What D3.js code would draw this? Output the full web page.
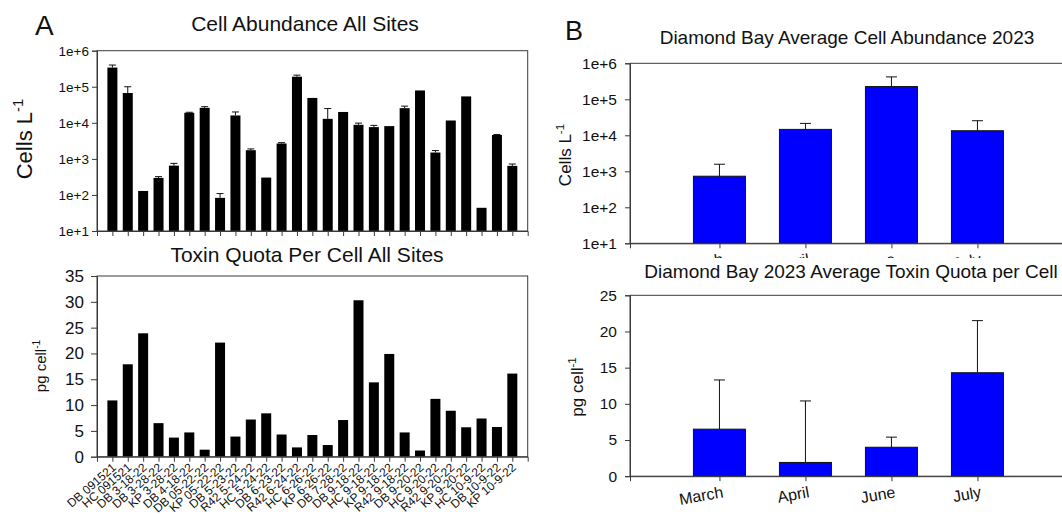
<!DOCTYPE html>
<html>
<head>
<meta charset="utf-8">
<script src="https://cdn.jsdelivr.net/npm/d3@7"></script>
<style>
  body { margin: 0; background: #fff; }
  svg { display: block; }
  text { font-family: "Liberation Sans", Arial, sans-serif; fill: #111; }
</style>
</head>
<body>
<svg id="fig" width="1062" height="514"></svg>
<script>
// ---- Panel A: all sampling sites ----
const siteLabels = [
  "DB 091521", "HC 091521", "DB 3-18-22", "DB 3-28-22", "KP 3-28-22", "DB 4-18-22",
  "DB 05-22-22", "KP 05-22-22", "DB 5-23-22", "R42 5-24-22", "HC 5-24-22", "DB 6-23-22",
  "R42 6-24-22", "HC 6-26-22", "KP 6-26-22", "DB 7-28-22", "DB 9-18-22", "HC 9-18-22",
  "KP 9-18-22", "R42 9-18-22", "DB 9-20-22", "HC 9-20-22", "R42 9-20-22", "KP 9-20-22",
  "HC 10-9-22", "DB 10-9-22", "KP 10-9-22"
];
// cells per litre (mean) and upper error
const siteCells = [
  340000, 67000, 129, 297, 650, 19000, 26000, 83, 16000, 1740, 303, 2670,
  190000, 49000, 12900, 20000, 8800, 7600, 8100, 25500, 79000, 1500, 11600, 54000,
  44, 4600, 640
];
const siteCellsErr = [
  60000, 33000, 0, 25, 100, 600, 2000, 26, 4000, 150, 0, 150,
  20000, 0, 12000, 0, 1000, 900, 0, 3500, 0, 200, 0, 0,
  0, 150, 80
];
// toxin quota, pg per cell
const siteToxin = [
  10.9, 17.9, 23.9, 6.5, 3.7, 4.7, 1.36, 22.1, 3.9, 7.2, 8.4, 4.3,
  1.8, 4.2, 2.26, 7.1, 30.3, 14.4, 19.9, 4.7, 1.2, 11.2, 8.9, 5.7,
  7.4, 5.75, 16.1
];

// ---- Panel B: Diamond Bay monthly means, 2023 ----
const months = ["March", "April", "June", "July"];
const monthCells = [730, 14600, 226000, 13400];
const monthCellsErr = [840, 6800, 193000, 12000];
const monthToxin = [6.5, 1.9, 4.0, 14.3];
const monthToxinErr = [6.8, 8.5, 1.4, 7.2];

// shared tick values / labels
const cellTicks = [10, 100, 1000, 10000, 100000, 1000000];
const cellTickLabels = ["1e+1", "1e+2", "1e+3", "1e+4", "1e+5", "1e+6"];
const siteToxinTicks = [0, 5, 10, 15, 20, 25, 30, 35];
const monthToxinTicks = [0, 5, 10, 15, 20, 25];

const svg = d3.select("#fig");
const AXIS = "#3a3a3a";

function styleAxis(g, fontSize) {
  g.attr("font-size", fontSize);
  g.selectAll("path.domain").attr("stroke", AXIS);
  g.selectAll(".tick line").attr("stroke", AXIS);
  g.selectAll(".tick text")
    .attr("font-family", "Liberation Sans, Arial, sans-serif")
    .attr("font-size", fontSize)
    .attr("fill", "#111");
}

function yLabel(x, y, main, size) {
  const t = svg.append("text")
    .attr("transform", `translate(${x},${y}) rotate(-90)`)
    .attr("text-anchor", "middle")
    .attr("font-size", size);
  t.append("tspan").text(main);
  t.append("tspan").attr("font-size", size * 0.68).attr("dy", -size * 0.42).text("-1");
}

function errorBars(g, xs, ys, means, errs, capHalf) {
  const idx = d3.range(means.length).filter(i => errs[i] > 0);
  g.selectAll("line.err").data(idx).join("line")
    .attr("x1", i => xs(i)).attr("x2", i => xs(i))
    .attr("y1", i => ys(means[i])).attr("y2", i => ys(means[i] + errs[i]))
    .attr("stroke", "#111").attr("stroke-width", 1);
  g.selectAll("line.cap").data(idx).join("line")
    .attr("x1", i => xs(i) - capHalf).attr("x2", i => xs(i) + capHalf)
    .attr("y1", i => ys(means[i] + errs[i])).attr("y2", i => ys(means[i] + errs[i]))
    .attr("stroke", "#111").attr("stroke-width", 1);
}

// ================= Panel A, top: cell abundance =================
{
  const L = 97, R = 527.7, T = 50.7, B = 231;
  const x = d3.scalePoint().domain(siteLabels).range([L, R]).padding(1);
  const y = d3.scaleLog().domain([10, 1e6]).range([B, T]);
  const g = svg.append("g");

  g.selectAll("rect.bar").data(siteCells).join("rect")
    .attr("x", (d, i) => x(siteLabels[i]) - 5)
    .attr("y", d => y(d))
    .attr("width", 10)
    .attr("height", d => B - y(d))
    .attr("fill", "#000");
  errorBars(g, i => x(siteLabels[i]), y, siteCells, siteCellsErr, 3.5);

  g.append("rect").attr("x", L).attr("y", T).attr("width", R - L).attr("height", B - T)
    .attr("fill", "none").attr("stroke", AXIS);

  const ya = g.append("g").attr("transform", `translate(${L},0)`)
    .call(d3.axisLeft(y).tickValues(cellTicks).tickFormat((d, i) => cellTickLabels[i]).tickSize(5).tickPadding(3));
  styleAxis(ya, 13.5);
  const xa = g.append("g").attr("transform", `translate(0,${B})`)
    .call(d3.axisBottom(x).tickSize(5).tickFormat(""));
  styleAxis(xa, 12);

  svg.append("text").attr("x", 305).attr("y", 31).attr("text-anchor", "middle")
    .attr("font-size", 21).text("Cell Abundance All Sites");
  yLabel(32, 139, "Cells L", 22);
  svg.append("text").attr("x", 35).attr("y", 35).attr("font-size", 28).text("A");
}

// ================= Panel A, bottom: toxin quota =================
{
  const L = 97, R = 527.7, T = 276, B = 456.7;
  const x = d3.scalePoint().domain(siteLabels).range([L, R]).padding(1);
  const y = d3.scaleLinear().domain([0, 35]).range([B, T]);
  const g = svg.append("g");

  g.selectAll("rect.bar").data(siteToxin).join("rect")
    .attr("x", (d, i) => x(siteLabels[i]) - 5)
    .attr("y", d => y(d))
    .attr("width", 10)
    .attr("height", d => B - y(d))
    .attr("fill", "#000");

  g.append("rect").attr("x", L).attr("y", T).attr("width", R - L).attr("height", B - T)
    .attr("fill", "none").attr("stroke", AXIS);

  const ya = g.append("g").attr("transform", `translate(${L},0)`)
    .call(d3.axisLeft(y).tickValues(siteToxinTicks).tickSize(6).tickPadding(7));
  styleAxis(ya, 17);
  const xa = g.append("g").attr("transform", `translate(0,${B})`)
    .call(d3.axisBottom(x).tickSize(5));
  styleAxis(xa, 12);
  xa.selectAll(".tick text")
    .attr("text-anchor", "end")
    .attr("dy", null)
    .attr("y", null)
    .attr("transform", "translate(4,12) rotate(-41)");

  svg.append("text").attr("x", 307).attr("y", 262).attr("text-anchor", "middle")
    .attr("font-size", 21).text("Toxin Quota Per Cell All Sites");
  yLabel(46, 366, "pg cell", 15);
}

// ================= Panel B, top: monthly cell abundance =================
{
  const L = 630, R = 630 + 86 * 5.08, T = 63.3, B = 243.3;
  const x = d3.scalePoint().domain(months).range([L, R]).padding(1.04);
  const y = d3.scaleLog().domain([10, 1e6]).range([B, T]);
  const g = svg.append("g");

  errorBars(g, i => x(months[i]), y, monthCells, monthCellsErr, 5.5);
  g.selectAll("rect.bar").data(monthCells).join("rect")
    .attr("x", (d, i) => x(months[i]) - 26)
    .attr("y", d => y(d))
    .attr("width", 52)
    .attr("height", d => B - y(d))
    .attr("fill", "#0000ff")
    .attr("stroke", "#111").attr("stroke-width", 1);

  g.append("rect").attr("x", L).attr("y", T).attr("width", R - L).attr("height", B - T)
    .attr("fill", "none").attr("stroke", AXIS);

  const ya = g.append("g").attr("transform", `translate(${L},0)`)
    .call(d3.axisLeft(y).tickValues(cellTicks).tickFormat((d, i) => cellTickLabels[i]).tickSize(5).tickPadding(8));
  styleAxis(ya, 15.5);
  const xa = g.append("g").attr("transform", `translate(0,${B})`)
    .call(d3.axisBottom(x).tickSize(5));
  styleAxis(xa, 16);
  xa.selectAll(".tick text")
    .attr("text-anchor", "end").attr("dy", null).attr("y", null)
    .attr("transform", "translate(4,21) rotate(-10)");

  svg.append("text").attr("x", 847).attr("y", 44).attr("text-anchor", "middle")
    .attr("font-size", 19).text("Diamond Bay Average Cell Abundance 2023");
  yLabel(571, 155, "Cells L", 17);
  svg.append("text").attr("x", 565).attr("y", 40).attr("font-size", 27).text("B");
}

// ================= Panel B, bottom: monthly toxin quota =================
{
  // the lower panel's white backdrop sits over the month labels above it
  svg.append("rect").attr("x", 600).attr("y", 258).attr("width", 462).attr("height", 256)
    .attr("fill", "#fff");

  const L = 630, R = 630 + 86 * 5.08, T = 295.3, B = 476.2;
  const x = d3.scalePoint().domain(months).range([L, R]).padding(1.04);
  const y = d3.scaleLinear().domain([0, 25]).range([B, T]);
  const g = svg.append("g");

  errorBars(g, i => x(months[i]), y, monthToxin, monthToxinErr, 5.5);
  g.selectAll("rect.bar").data(monthToxin).join("rect")
    .attr("x", (d, i) => x(months[i]) - 26)
    .attr("y", d => y(d))
    .attr("width", 52)
    .attr("height", d => B - y(d))
    .attr("fill", "#0000ff")
    .attr("stroke", "#111").attr("stroke-width", 1);

  g.append("rect").attr("x", L).attr("y", T).attr("width", R - L).attr("height", B - T)
    .attr("fill", "none").attr("stroke", AXIS);

  const ya = g.append("g").attr("transform", `translate(${L},0)`)
    .call(d3.axisLeft(y).tickValues(monthToxinTicks).tickSize(5).tickPadding(8));
  styleAxis(ya, 15.5);
  const xa = g.append("g").attr("transform", `translate(0,${B})`)
    .call(d3.axisBottom(x).tickSize(5));
  styleAxis(xa, 16);
  xa.selectAll(".tick text")
    .attr("text-anchor", "end").attr("dy", null).attr("y", null)
    .attr("transform", "translate(4,21) rotate(-10)");

  svg.append("text").attr("x", 851).attr("y", 278).attr("text-anchor", "middle")
    .attr("font-size", 19).text("Diamond Bay 2023 Average Toxin Quota per Cell");
  yLabel(583, 387, "pg cell", 17);
}
</script>
</body>
</html>
